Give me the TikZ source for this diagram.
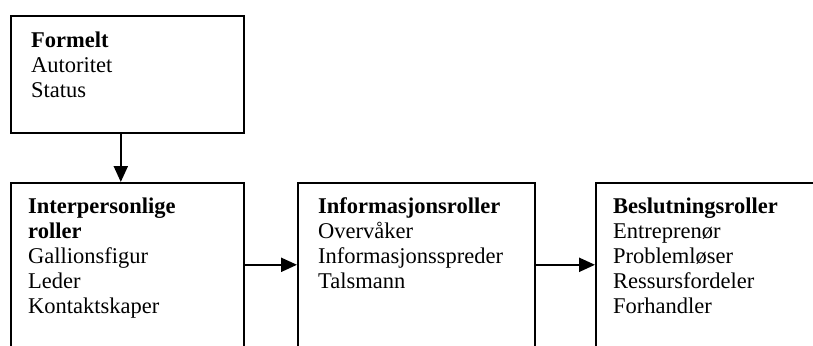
\documentclass[tikz,border=0pt]{standalone}
\usepackage{fontspec}
\setmainfont{Liberation Serif}
\usetikzlibrary{arrows.meta}
\begin{document}
\begin{tikzpicture}[x=1pt,y=-1pt,
  box/.style={draw, line width=1.6pt, rectangle, inner sep=0pt, anchor=north west},
  txt/.style={anchor=north west, inner sep=0pt, align=left, font=\fontsize{22.5}{25}\selectfont},
  conn/.style={line width=2.2pt, -{Triangle[length=16pt,width=14pt]}}]
\useasboundingbox (0,0) rectangle (813,345);
\clip (0,0) rectangle (813,345);
% boxes
\node[box, minimum width=233pt, minimum height=117pt] (formelt) at (10,15) {};
\node[box, minimum width=233pt, minimum height=164pt] (interp) at (10,182) {};
\node[box, minimum width=237pt, minimum height=164pt] (info) at (297,182) {};
\node[box, minimum width=260pt, minimum height=164pt] (beslut) at (595,182) {};
% texts
\node[txt] (tformelt) at ([shift={(21,14.5)}]formelt.north west)
  {\strut\textbf{Formelt}\\Autoritet\\Status};
\node[txt] (tinterp) at ([shift={(18,13.5)}]interp.north west)
  {\strut\textbf{Interpersonlige}\\\textbf{roller}\\Gallionsfigur\\Leder\\Kontaktskaper};
\node[txt] (tinfo) at ([shift={(21,13.5)}]info.north west)
  {\strut\textbf{Informasjonsroller}\\Overvåker\\Informasjonsspreder\\Talsmann};
\node[txt] (tbeslut) at ([shift={(18,13.5)}]beslut.north west)
  {\strut\textbf{Beslutningsroller}\\Entreprenør\\Problemløser\\Ressursfordeler\\Forhandler};
% connectors
\draw[conn] ([xshift=-6.5pt]formelt.south) -- ([xshift=-6.5pt]formelt.south |- interp.north);
\draw[conn] (interp.east) -- (info.west);
\draw[conn] (info.east) -- (beslut.west);
\end{tikzpicture}
\end{document}
